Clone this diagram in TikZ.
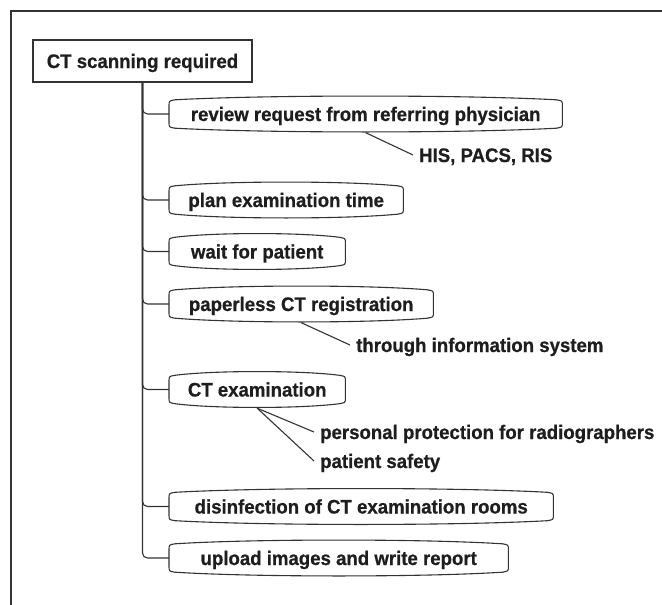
\documentclass[tikz,border=0pt]{standalone}
\usepackage{fontspec}
\setmainfont{Liberation Sans}
\newfontfamily\labelfont{Liberation Sans}[FakeStretch=0.95, BoldFeatures={FakeBold=0.6}]
\usetikzlibrary{calc}
\definecolor{ink}{HTML}{333333}
\definecolor{txt}{HTML}{1E1E1E}

\tikzset{
  lbl/.style={font=\labelfont\fontsize{19.6}{23}\selectfont\bfseries, text=txt,
    text height=16pt, text depth=2pt},
  rootbox/.style={lbl, draw=ink, line width=1.1pt, minimum width=219pt,
    minimum height=42pt, inner sep=0pt},
  taskbox/.style={lbl, anchor=west, minimum height=26pt, inner sep=0pt},
  note/.style={lbl, anchor=west, inner xsep=6pt, inner ysep=0pt},
  conn/.style={draw=ink, line width=1.1pt, rounded corners=5pt},
  tasklines/.style={draw=ink, line width=1.1pt},
  framelines/.style={draw=ink, line width=1.4pt},
}

% outline of a task box: straight sides, rounded corners, top and bottom bowed outward
\newcommand\taskoutline[1]{%
  \draw[tasklines]
    ($(#1.north west)+(0,5)$) -- ($(#1.south west)+(0,-5)$)
    .. controls (#1.south west) .. ($(#1.south west)+(6,1)$)
    .. controls ($(#1.south west)!0.25!(#1.south east)+(0,6)$)
           and ($(#1.south west)!0.75!(#1.south east)+(0,6)$) .. ($(#1.south east)+(-6,1)$)
    .. controls (#1.south east) .. ($(#1.south east)+(0,-5)$)
    -- ($(#1.north east)+(0,5)$)
    .. controls (#1.north east) .. ($(#1.north east)+(-6,-1)$)
    .. controls ($(#1.north west)!0.75!(#1.north east)+(0,-6)$)
           and ($(#1.north west)!0.25!(#1.north east)+(0,-6)$) .. ($(#1.north west)+(6,-1)$)
    .. controls (#1.north west) .. cycle;}

\begin{document}
\begin{tikzpicture}[x=1pt, y=-1pt]
  \useasboundingbox (0,0) rectangle (662,605);
  \fill[white] (0,0) rectangle (662,605);

  % page frame
  \draw[framelines] (11,605) -- (11,11) -- (662,11);

  % root
  \node[rootbox] (root) at (142.5,61) {CT scanning required};

  % tasks
  \node[taskbox, minimum width=393pt] (b1) at (169,114)   {review request from referring physician};
  \node[taskbox, minimum width=234pt] (b2) at (169,200)   {plan examination time};
  \node[taskbox, minimum width=176pt] (b3) at (169,251.5) {wait for patient};
  \node[taskbox, minimum width=264pt] (b4) at (169,304)   {paperless CT registration};
  \node[taskbox, minimum width=176pt] (b5) at (169,389.5) {CT examination};
  \node[taskbox, minimum width=384pt] (b6) at (169,506.5) {disinfection of CT examination rooms};
  \node[taskbox, minimum width=339pt] (b7) at (169,558)   {upload images and write report};

  \foreach \b in {b1,b2,b3,b4,b5,b6,b7}{
    \taskoutline{\b}
    \draw[conn] (root.south) |- (\b.west);
  }

  % notes
  \node[note] (his) at (413,155) {HIS, PACS, RIS};
  \node[note] (thr) at (350,345) {through information system};
  \node[note] (pp)  at (314,432) {personal protection for radiographers};
  \node[note] (ps)  at (314,461) {patient safety};

  \coordinate (b1m) at ($(b1.south)+(0,5.5)$);
  \coordinate (b4m) at ($(b4.south)+(0,5.5)$);
  \coordinate (b5m) at ($(b5.south)+(0,5.5)$);

  \draw[tasklines] (b1m) -- (his.west);
  \draw[tasklines] (b4m) -- (thr.west);
  \draw[tasklines] (b5m) -- (pp.west);
  \draw[tasklines] (b5m) -- (ps.west);
\end{tikzpicture}
\end{document}
